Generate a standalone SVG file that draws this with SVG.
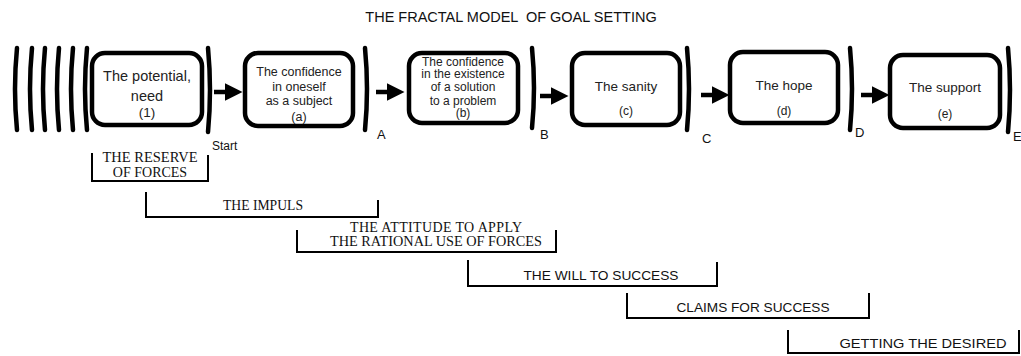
<svg xmlns="http://www.w3.org/2000/svg" width="1021" height="356" viewBox="0 0 1021 356">
<defs>
<style>
.box{fill:#fff;stroke:#000;stroke-width:4.5}
.br{fill:none;stroke:#000;stroke-width:4.5;stroke-linecap:round}
.t{font-family:"Liberation Sans",Arial,sans-serif;font-size:12px;fill:#222;text-anchor:middle}
.t14{font-size:14.5px}
.t125{font-size:12.5px}
.t135{font-size:13.5px}
.lab{font-family:"Liberation Sans",Arial,sans-serif;font-size:13px;fill:#111}
.sm{font-size:12px}
.ser{font-family:"Liberation Serif","Times New Roman",serif;font-size:14px;fill:#111;text-anchor:middle}
.san{font-family:"Liberation Sans",Arial,sans-serif;font-size:13.5px;fill:#111;text-anchor:middle}
.u{fill:none;stroke:#000;stroke-width:2}
.ar{stroke:#000;stroke-width:4.5;fill:none}
</style>
<marker id="ah" markerWidth="4" markerHeight="4" refX="1" refY="2" orient="auto" markerUnits="strokeWidth">
<path d="M0,0 L4,2 L0,4 Z" fill="#000"/>
</marker>
</defs>
<rect width="1021" height="356" fill="#fff"/>
<text x="511" y="22" font-family="Liberation Sans,Arial,sans-serif" font-size="14.5" fill="#111" text-anchor="middle" xml:space="preserve">THE FRACTAL MODEL  OF GOAL SETTING</text>

<g id="left-arcs">
<path class="br" d="M17,48 Q13,89 17,130"/>
<path class="br" d="M32,48 Q28,89 32,130"/>
<path class="br" d="M45,48 Q41,89 45,130"/>
<path class="br" d="M59,48 Q55,89 59,130"/>
<path class="br" d="M73,48 Q69,89 73,130"/>
<path class="br" d="M87,48 Q83,89 87,130"/>
</g>

<g id="node-1">
<rect class="box" x="92" y="53" width="110" height="72" rx="13"/>
<text class="t t14" x="147" y="81">The potential,</text>
<text class="t t14" x="147" y="101">need</text>
<text class="t t135" x="147" y="117">(1)</text>
</g>
<g id="node-a">
<rect class="box" x="245" y="53" width="108" height="73" rx="13"/>
<text class="t t125" x="299" y="76">The confidence</text>
<text class="t t125" x="299" y="91">in oneself</text>
<text class="t t125" x="299" y="105">as a subject</text>
<text class="t t125" x="299" y="121">(a)</text>
</g>
<g id="node-b">
<rect class="box" x="409" y="53" width="109" height="70" rx="13"/>
<text class="t" x="463" y="66">The confidence</text>
<text class="t" x="463" y="78">in the existence</text>
<text class="t" x="463" y="91">of a solution</text>
<text class="t" x="463" y="105">to a problem</text>
<text class="t" x="463" y="117">(b)</text>
</g>
<g id="node-c">
<rect class="box" x="572" y="53" width="108" height="72" rx="13"/>
<text class="t t135" x="626" y="91">The sanity</text>
<text class="t" x="626" y="115">(c)</text>
</g>
<g id="node-d">
<rect class="box" x="730" y="52" width="108" height="71" rx="13"/>
<text class="t t135" x="784" y="90">The hope</text>
<text class="t" x="784" y="115">(d)</text>
</g>
<g id="node-e">
<rect class="box" x="890" y="55" width="110" height="73" rx="13"/>
<text class="t t135" x="945" y="92">The support</text>
<text class="t" x="945" y="118">(e)</text>
</g>

<g id="stage-brackets">
<path class="br" d="M208,48 Q212,90 208,132"/>
<path class="br" d="M365,48 Q369,89 365,130"/>
<path class="br" d="M532,48 Q536,88 532,128"/>
<path class="br" d="M687,48 Q691,89 687,130"/>
<path class="br" d="M850,48 Q854,89 850,130"/>
<path class="br" d="M1008,48 Q1012,90 1008,132"/>
<text class="lab sm" x="212" y="150">Start</text>
<text class="lab" x="377" y="139">A</text>
<text class="lab" x="540" y="139">B</text>
<text class="lab" x="702" y="143">C</text>
<text class="lab" x="855" y="137">D</text>
<text class="lab" x="1013" y="141">E</text>
</g>

<g id="connectors">
<line class="ar" x1="214" y1="92" x2="229" y2="92" marker-end="url(#ah)"/>
<line class="ar" x1="376" y1="92" x2="391" y2="92" marker-end="url(#ah)"/>
<line class="ar" x1="540" y1="96" x2="555" y2="96" marker-end="url(#ah)"/>
<line class="ar" x1="701" y1="95" x2="716" y2="95" marker-end="url(#ah)"/>
<line class="ar" x1="861" y1="95" x2="876" y2="95" marker-end="url(#ah)"/>
</g>

<g id="phase-reserve">
<path class="u" d="M92,153 V181 H208 V155"/>
<text class="ser" x="150" y="162" textLength="95" lengthAdjust="spacingAndGlyphs">THE RESERVE</text>
<text class="ser" x="150" y="177">OF FORCES</text>
</g>
<g id="phase-impuls">
<path class="u" d="M146,192 V217 H378 V200"/>
<text class="ser" x="263" y="210" textLength="80" lengthAdjust="spacingAndGlyphs">THE IMPULS</text>
</g>
<g id="phase-attitude">
<path class="u" d="M297,230 V252 H556 V230"/>
<text class="ser" x="436" y="232" textLength="172">THE ATTITUDE TO APPLY</text>
<text class="ser" x="436" y="246" textLength="212" lengthAdjust="spacingAndGlyphs">THE RATIONAL USE OF FORCES</text>
</g>
<g id="phase-will">
<path class="u" d="M468,260 V286 H717 V262"/>
<text class="san" x="601" y="280" textLength="155" lengthAdjust="spacingAndGlyphs">THE WILL TO SUCCESS</text>
</g>
<g id="phase-claims">
<path class="u" d="M627,293 V318 H869 V293"/>
<text class="san" x="753" y="312" textLength="153" lengthAdjust="spacingAndGlyphs">CLAIMS FOR SUCCESS</text>
</g>
<g id="phase-getting">
<path class="u" d="M788,330 V353 H1019 V330"/>
<text class="san" x="923" y="348" textLength="167" lengthAdjust="spacingAndGlyphs">GETTING THE DESIRED</text>
</g>
</svg>
